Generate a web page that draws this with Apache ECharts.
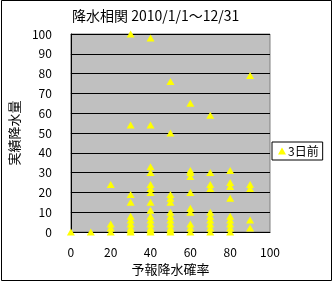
<!DOCTYPE html>
<html><head><meta charset="utf-8">
<script src="https://cdn.jsdelivr.net/npm/echarts@6/dist/echarts.min.js"></script>
<style>html,body{margin:0;padding:0;background:#fff}#c{width:333px;height:282px}</style>
</head><body><div id="c"></div>
<script>
// forecast probability (%) -> observed rainfall values
const probs = [0, 10, 20, 30, 40, 50, 60, 70, 80, 90];
const p0 = [0];
const p10 = [0];
const p20 = [0, 2, 4, 24];
const p30 = [0, 1, 2, 4, 6, 8, 15, 19, 54, 100];
const p40 = [0, 1, 2, 4, 6, 8, 11, 15, 20, 22, 24, 30, 33, 54, 98];
const p50 = [0, 1, 2, 4, 6, 8, 10, 15, 17, 19, 50, 76];
const p60 = [0, 2, 4, 10, 12, 20, 28, 30, 31, 65];
const p70 = [0, 2, 4, 6, 8, 10, 22, 24, 30, 59];
const p80 = [0, 2, 4, 6, 8, 17, 23, 25, 31];
const p90 = [2, 6, 22, 24, 79];
const groups = [p0, p10, p20, p30, p40, p50, p60, p70, p80, p90];
const xTicks = [0, 20, 40, 60, 80, 100];
const yTicks = [0, 10, 20, 30, 40, 50, 60, 70, 80, 90, 100];

const data = [];
groups.forEach((g, i) => g.forEach(v => data.push([probs[i], v])));

const FONT = '"Noto Sans CJK JP", sans-serif';
const chart = echarts.init(document.getElementById('c'), null, {renderer: 'canvas'});
chart.setOption({
  animation: false,
  backgroundColor: '#fff',
  title: {
    text: '降水相関 2010/1/1～12/31',
    left: 67, top: 4,
    textStyle: {fontFamily: FONT, fontSize: 14, fontWeight: 'normal', color: '#000'}
  },
  grid: {
    left: 63, top: 34, width: 207, height: 198,
    show: true, backgroundColor: '#C0C0C0', borderColor: '#808080', borderWidth: 1
  },
  legend: {
    left: 272, top: 142,
    padding: [3, 4, 3, 6],
    borderColor: '#000', borderWidth: 1,
    itemWidth: 8, itemHeight: 7, itemGap: 2,
    textStyle: {fontFamily: FONT, fontSize: 12, color: '#000', padding: [0, 0, 0, -3]},
    data: [{name: '3日前', icon: 'triangle'}]
  },
  xAxis: {
    type: 'value', min: xTicks[0], max: xTicks[xTicks.length - 1], interval: 20,
    name: '予報降水確率', nameLocation: 'middle', nameGap: 28,
    nameTextStyle: {fontFamily: FONT, fontSize: 13, color: '#000'},
    axisLine: {show: true, lineStyle: {color: '#000', width: 1}},
    axisTick: {show: false},
    axisLabel: {fontFamily: FONT, fontSize: 12, color: '#000', margin: 14},
    splitLine: {show: false}
  },
  yAxis: {
    type: 'value', min: yTicks[0], max: yTicks[yTicks.length - 1], interval: 10,
    name: '実績降水量', nameLocation: 'middle', nameGap: 31,
    nameTextStyle: {fontFamily: FONT, fontSize: 13, color: '#000'},
    axisLine: {show: true, lineStyle: {color: '#000', width: 1}},
    axisTick: {show: false},
    axisLabel: {fontFamily: FONT, fontSize: 12, color: '#000', margin: 19},
    splitLine: {show: true, lineStyle: {color: '#000', width: 1}}
  },
  graphic: [{
    type: 'rect', silent: true, z: 100,
    shape: {x: 1.5, y: 0.5, width: 330, height: 280},
    style: {fill: 'none', stroke: '#000', lineWidth: 1}
  }],
  series: [{
    name: '3日前', type: 'scatter', data: data,
    symbol: 'triangle', symbolSize: [8, 7], clip: false,
    itemStyle: {color: '#FFFF00', opacity: 1}
  }]
});
</script></body></html>
